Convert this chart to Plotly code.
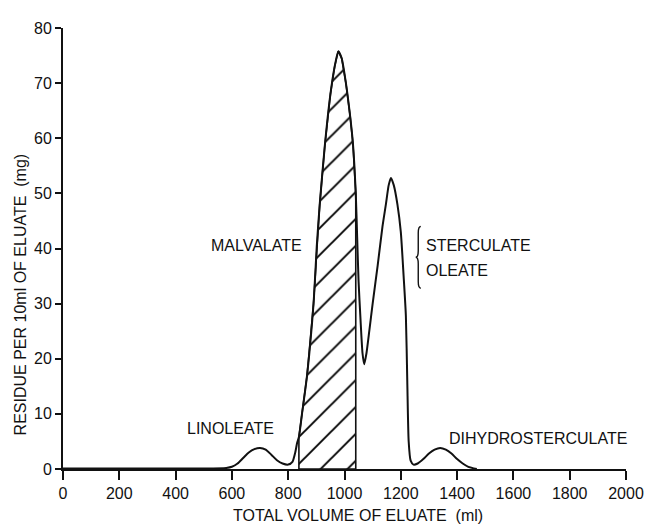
import plotly.graph_objects as go

# Elution curve (total volume of eluate in ml, residue in mg per 10 ml)
volume_ml = [0, 100, 200, 300, 400, 500, 580, 600, 620, 640, 660, 680, 700, 720, 740, 760, 780,
             800, 815, 825, 832, 838, 849, 867, 890, 902, 912, 930, 950, 965, 978, 990, 1005,
             1020, 1030, 1040, 1045, 1050, 1057, 1064, 1070, 1078, 1088, 1100, 1118, 1135,
             1147, 1157, 1165, 1175, 1188, 1200, 1210, 1218, 1223, 1228, 1235, 1245, 1260,
             1280, 1300, 1320, 1340, 1360, 1380, 1400, 1420, 1440, 1470]
residue_mg = [0.1, 0.1, 0.1, 0.1, 0.1, 0.1, 0.2, 0.4, 1.0, 2.0, 3.0, 3.6, 3.8, 3.5, 2.6, 1.6, 1.0,
              0.8, 1.3, 3.0, 4.8, 5.8, 10.0, 17.0, 30.0, 40.8, 48.0, 58.6, 68.0, 73.0, 75.8, 74.5,
              70.0, 64.0, 59.0, 50.0, 42.0, 34.0, 27.0, 21.0, 19.0, 21.0, 25.0, 30.0, 37.0, 44.0,
              48.0, 51.5, 52.8, 51.5, 48.0, 43.0, 35.0, 27.8, 16.0, 5.0, 1.5, 0.8, 1.0,
              1.8, 2.8, 3.5, 3.8, 3.5, 2.8, 1.8, 1.0, 0.4, 0.0]

# Malvalate fraction (hatched) boundaries, ml
malvalate_start_ml = 838
malvalate_end_ml = 1040

# Labels: (text, volume ml, residue mg)
peak_labels = [
    ("LINOLEATE", 596, 7.4),
    ("MALVALATE", 688, 40.5),
    ("DIHYDROSTERCULATE", 1688, 5.6),
]
brace_labels = [("STERCULATE", 1281, 40.6), ("OLEATE", 1281, 36.0)]

x_ticks = [0, 200, 400, 600, 800, 1000, 1200, 1400, 1600, 1800, 2000]
y_ticks = [0, 10, 20, 30, 40, 50, 60, 70, 80]

INK = "#111111"
FONT = "Liberation Sans, Arial, sans-serif"

hx = [v for v in volume_ml if malvalate_start_ml <= v <= malvalate_end_ml]
hy = [r for v, r in zip(volume_ml, residue_mg) if malvalate_start_ml <= v <= malvalate_end_ml]
hatch_x = [malvalate_start_ml] + hx + [malvalate_end_ml, malvalate_start_ml]
hatch_y = [0] + hy + [0, 0]

fig = go.Figure()
fig.add_trace(go.Scatter(
    x=hatch_x, y=hatch_y, mode="lines", fill="toself",
    line=dict(color=INK, width=1.6),
    fillcolor="white",
    fillpattern=dict(shape="/", size=19, solidity=0.1, fgcolor="black", fgopacity=1,
                     bgcolor="white"),
    hoverinfo="skip", showlegend=False, cliponaxis=False,
))
fig.add_trace(go.Scatter(
    x=volume_ml, y=residue_mg, mode="lines",
    line=dict(color=INK, width=2, shape="spline", smoothing=0.6),
    showlegend=False, cliponaxis=False,
))

for text, xv, yv in peak_labels:
    fig.add_annotation(x=xv, y=yv, text=text, showarrow=False, xref="x", yref="y",
                       font=dict(family=FONT, size=16, color=INK), xanchor="center", yanchor="middle")
for text, xv, yv in brace_labels:
    fig.add_annotation(x=xv, y=yv, text=text, showarrow=False, xref="x", yref="y",
                       font=dict(family=FONT, size=16, color=INK), xanchor="left", yanchor="middle")

# curly brace in front of STERCULATE / OLEATE
bx, btop, bbot = 1262, 44.0, 32.8
bmid = (btop + bbot) / 2
w = 9
d = 1.2
brace = (f"M {bx+w},{btop} Q {bx},{btop} {bx},{btop-d} L {bx},{bmid+d} "
         f"Q {bx},{bmid} {bx-w},{bmid} Q {bx},{bmid} {bx},{bmid-d} L {bx},{bbot+d} "
         f"Q {bx},{bbot} {bx+w},{bbot}")
fig.add_shape(type="path", path=brace, xref="x", yref="y", line=dict(color=INK, width=1.4))

fig.add_annotation(x=(362 - 63) / 570, y=-0.105, xref="paper", yref="paper",
                   text="TOTAL VOLUME OF ELUATE\u00a0 (ml)", showarrow=False,
                   font=dict(family=FONT, size=16, color=INK), xanchor="center", yanchor="middle")
fig.add_annotation(x=-0.076, y=(469 - 291) / 449, xref="paper", yref="paper",
                   text="RESIDUE PER 10ml OF ELUATE\u00a0 (mg)", showarrow=False, textangle=-90,
                   font=dict(family=FONT, size=16, color=INK), xanchor="center", yanchor="middle")

fig.update_xaxes(range=[0, 2000], tickvals=x_ticks, ticks="outside", ticklen=9, tickwidth=1.5,
                 tickcolor=INK, showline=True, linecolor=INK, linewidth=1.8, showgrid=False,
                 zeroline=False, tickfont=dict(family=FONT, size=16, color=INK))
fig.update_yaxes(range=[0, 80], tickvals=y_ticks, ticks="outside", ticklen=6, tickwidth=1.5,
                 tickcolor=INK, showline=True, linecolor=INK, linewidth=1.8, showgrid=False,
                 zeroline=False, tickfont=dict(family=FONT, size=16, color=INK))

# page body has an 8px margin, so the figure is 8px smaller and margins are shifted by 8px
fig.update_layout(width=648, height=516, margin=dict(l=55, r=23, t=12, b=55),
                  plot_bgcolor="white", paper_bgcolor="white", showlegend=False)

fig.write_html("out.html")
